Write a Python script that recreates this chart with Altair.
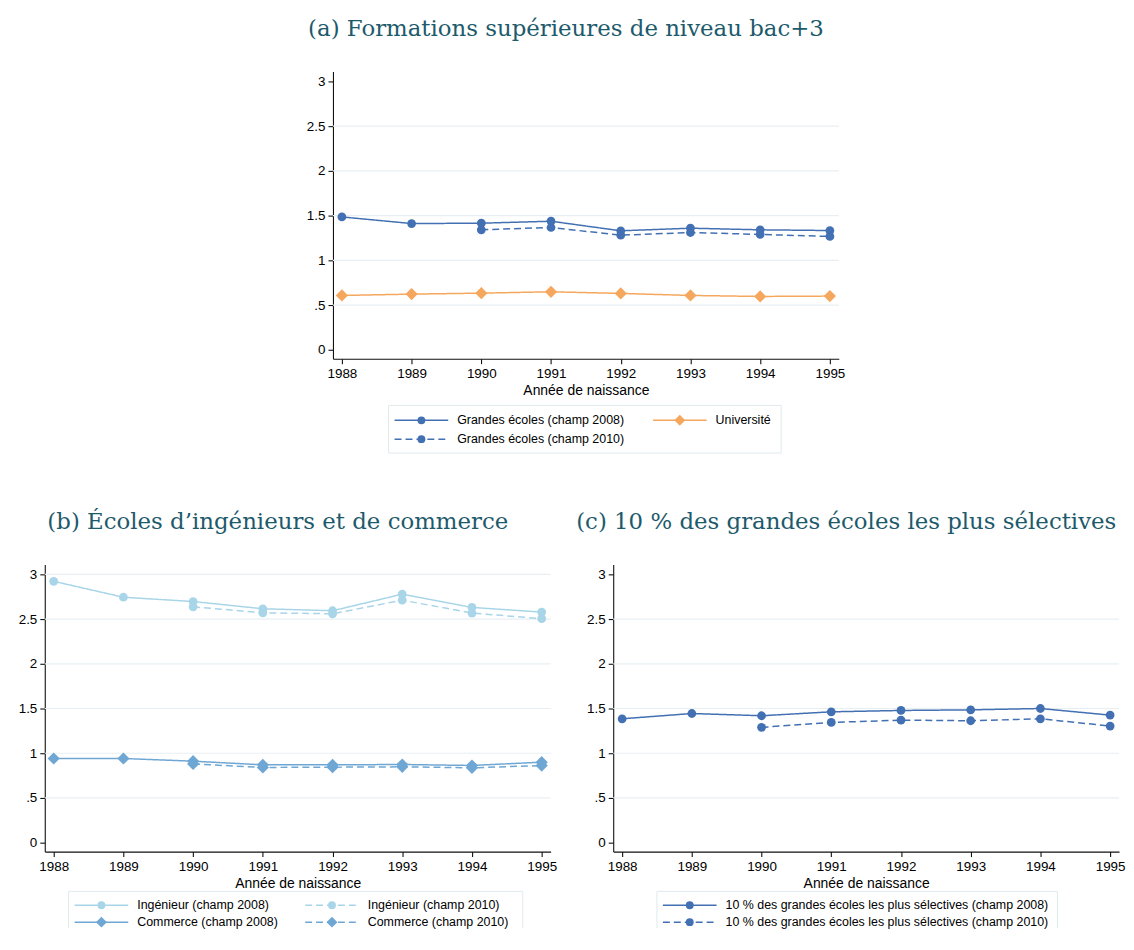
import altair as alt
import pandas as pd

# ---------------- data ----------------
years = [1988, 1989, 1990, 1991, 1992, 1993, 1994, 1995]
years_2010 = [1990, 1991, 1992, 1993, 1994, 1995]

ge_2008 = [1.485, 1.411, 1.415, 1.437, 1.330, 1.359, 1.341, 1.333]
ge_2010 = [1.341, 1.367, 1.281, 1.311, 1.289, 1.267]
universite = [0.607, 0.622, 0.633, 0.648, 0.630, 0.607, 0.596, 0.600]

ing_2008 = [2.922, 2.744, 2.696, 2.615, 2.593, 2.778, 2.630, 2.578]
ing_2010 = [2.637, 2.570, 2.559, 2.711, 2.567, 2.504]
com_2008 = [0.941, 0.941, 0.911, 0.870, 0.870, 0.874, 0.863, 0.900]
com_2010 = [0.880, 0.841, 0.844, 0.848, 0.837, 0.862]

top_2008 = [1.385, 1.444, 1.419, 1.463, 1.478, 1.485, 1.500, 1.426]
top_2010 = [1.289, 1.344, 1.370, 1.363, 1.385, 1.304]

y_ticks = [0, 0.5, 1, 1.5, 2, 2.5, 3]
grid_a = [0.5, 1, 1.5, 2, 2.5]
grid_b = [0.5, 1, 1.5, 2, 2.5, 3]
grid_c = [0.5, 1, 1.5, 2, 2.5]

title_a = "(a) Formations supérieures de niveau bac+3"
title_b = "(b) Écoles d’ingénieurs et de commerce"
title_c = "(c) 10 % des grandes écoles les plus sélectives"
x_title = "Année de naissance"

lab_ge08 = "Grandes écoles (champ 2008)"
lab_ge10 = "Grandes écoles (champ 2010)"
lab_univ = "Université"
lab_ing08 = "Ingénieur (champ 2008)"
lab_ing10 = "Ingénieur (champ 2010)"
lab_com08 = "Commerce (champ 2008)"
lab_com10 = "Commerce (champ 2010)"
lab_top08 = "10 % des grandes écoles les plus sélectives (champ 2008)"
lab_top10 = "10 % des grandes écoles les plus sélectives (champ 2010)"

# ---------------- styles ----------------
W, H = 509, 289
X_DOMAIN = [1987.872, 1995.128]
Y_DOMAIN = [-0.1, 3.111]
SANS = "Liberation Sans"
SERIF = "DejaVu Serif"
TITLE_COLOR = "#1d5a6b"
GRID_COLOR = "#e8eff3"
BOX_COLOR = "#e1e9ed"
BLUE = "#4270b3"
ORANGE = "#f6a75e"
LIGHT = "#a8d5e8"
MID = "#6fa7d4"
SOLID = [1, 0]
DASH = [7, 4]
SIZES = {"circle": 78, "diamond": 150}
LW = 1.5


def S(label, yrs, vals, color, dash, shape):
    return dict(label=label, years=yrs, values=vals, color=color, dash=dash, shape=shape)


def panel(series, grid, title, legend_slots, box, closed=True):
    xs = alt.Scale(domain=X_DOMAIN, nice=False, zero=False)
    ys = alt.Scale(domain=Y_DOMAIN, nice=False, zero=False)
    x_axis = alt.Axis(values=years, format="d", title=x_title, grid=False,
                      labelFlush=False, labelOverlap=False, labelPadding=3,
                      titlePadding=4)
    y_axis = alt.Axis(values=y_ticks, title=None, grid=False, labelFlush=False,
                      labelOverlap=False, labelPadding=3,
                      labelExpr="datum.value == 0.5 ? '.5' : format(datum.value, '~g')")

    layers = [
        alt.Chart(pd.DataFrame({"g": grid})).mark_rule(
            color=GRID_COLOR, strokeWidth=1.2
        ).encode(y=alt.Y("g:Q", scale=ys, axis=y_axis), x=alt.value(0), x2=alt.value(W))
    ]

    for s in series:
        df = pd.DataFrame({"year": s["years"], "value": s["values"]})
        enc = dict(x=alt.X("year:Q", scale=xs, axis=x_axis),
                   y=alt.Y("value:Q", scale=ys, axis=y_axis))
        layers.append(alt.Chart(df).mark_line(color=s["color"], strokeDash=s["dash"],
                                              strokeWidth=LW).encode(**enc))
        layers.append(alt.Chart(df).mark_point(shape=s["shape"], filled=True, opacity=1,
                                               color=s["color"],
                                               size=SIZES[s["shape"]]).encode(**enc))

    # legend box (layout decoration, pixels relative to the plot)
    bx0, bx1, by0, by1 = box
    k = pd.DataFrame({"k": [0]})
    if closed:
        layers.append(alt.Chart(k).mark_rect(fill="white", stroke=BOX_COLOR, strokeWidth=1).encode(
            x=alt.value(bx0), x2=alt.value(bx1), y=alt.value(by0), y2=alt.value(by1)))
    else:
        layers.append(alt.Chart(k).mark_rule(color=BOX_COLOR, strokeWidth=1).encode(
            x=alt.value(bx0), x2=alt.value(bx1), y=alt.value(by0)))
        layers.append(alt.Chart(k).mark_rule(color=BOX_COLOR, strokeWidth=1).encode(
            x=alt.value(bx0), y=alt.value(by0), y2=alt.value(by1)))
        layers.append(alt.Chart(k).mark_rule(color=BOX_COLOR, strokeWidth=1).encode(
            x=alt.value(bx1), y=alt.value(by0), y2=alt.value(by1)))

    for s, (lx, ly) in zip(series, legend_slots):
        one = pd.DataFrame({"label": [s["label"]]})
        layers.append(
            alt.Chart(one).mark_rule(color=s["color"], strokeDash=s["dash"], strokeWidth=LW).encode(
                x=alt.value(lx), x2=alt.value(lx + 54), y=alt.value(ly)
            )
        )
        layers.append(
            alt.Chart(one).mark_point(shape=s["shape"], filled=True, opacity=1, color=s["color"],
                                      size=SIZES[s["shape"]] * 0.8).encode(
                x=alt.value(lx + 27), y=alt.value(ly)
            )
        )
        layers.append(
            alt.Chart(one).mark_text(align="left", baseline="middle", font=SANS, fontSize=12.5,
                                     color="#000").encode(
                x=alt.value(lx + 63), y=alt.value(ly), text="label:N"
            )
        )

    return alt.layer(*layers).properties(
        width=W, height=H,
        title=alt.TitleParams(text=title, font=SERIF, fontSize=23, fontWeight="normal",
                              color=TITLE_COLOR, anchor="middle", frame="group", dx=-20,
                              offset=31),
    )


ser_a = [S(lab_ge08, years, ge_2008, BLUE, SOLID, "circle"),
         S(lab_univ, years, universite, ORANGE, SOLID, "diamond"),
         S(lab_ge10, years_2010, ge_2010, BLUE, DASH, "circle")]
ser_b = [S(lab_ing08, years, ing_2008, LIGHT, SOLID, "circle"),
         S(lab_ing10, years_2010, ing_2010, LIGHT, DASH, "circle"),
         S(lab_com08, years, com_2008, MID, SOLID, "diamond"),
         S(lab_com10, years_2010, com_2010, MID, DASH, "diamond")]
ser_c = [S(lab_top08, years, top_2008, BLUE, SOLID, "circle"),
         S(lab_top10, years_2010, top_2010, BLUE, DASH, "circle")]

A1, A2 = 351, 370
B1, B2 = 343, 360
chart_a = panel(ser_a, grid_a, title_a, [(62, A1), (322, A1), (62, A2)], (56, 451, 336, 384))
chart_b = panel(ser_b, grid_b, title_b, [(30, B1), (262, B1), (30, B2), (262, B2)],
                (24, 481, 329, 366), closed=False)
chart_c = panel(ser_c, grid_c, title_c, [(50, B1), (50, B2)], (44, 447, 329, 366), closed=False)

spacer = alt.Chart(pd.DataFrame({"k": [0]})).mark_rect(opacity=0).encode(
    x=alt.value(0), x2=alt.value(10), y=alt.value(0), y2=alt.value(1)
).properties(width=263, height=1)

row1 = alt.hconcat(spacer, chart_a, spacing=0)
row2 = alt.hconcat(chart_b, chart_c, spacing=18)

chart = alt.vconcat(row1, row2, spacing=57).properties(
    padding={"left": 10, "top": 7, "right": 0, "bottom": 0}
).configure_view(stroke=None).configure_axis(
    domainColor="#111", tickColor="#111", labelColor="#000", titleColor="#000",
    labelFont=SANS, titleFont=SANS, labelFontSize=13.5, titleFontSize=14,
    titleFontWeight="normal", tickSize=5, domainWidth=1.1, tickWidth=1.1
)

chart.save("out.html", embed_options={"renderer": "svg", "actions": False})
